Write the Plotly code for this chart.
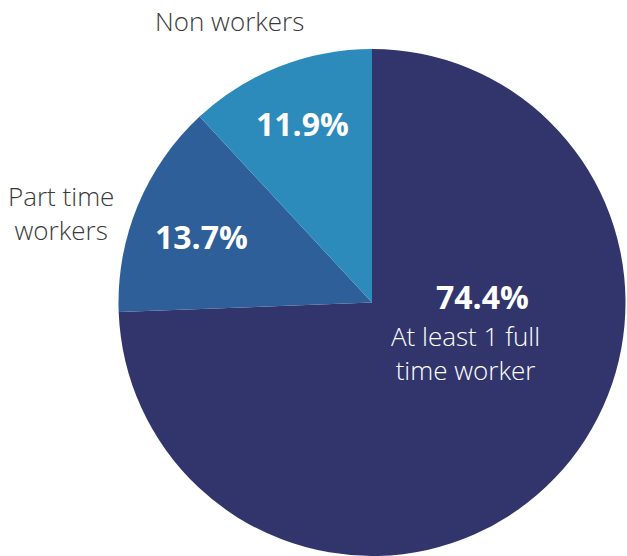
import plotly.graph_objects as go

W, H = 627, 556

labels = ["At least 1 full time worker", "Part time workers", "Non workers"]
label_lines = [["At least 1 full", "time worker"], ["Part time", "workers"], ["Non workers"]]
values = [74.4, 13.7, 11.9]
colors = ["#31356B", "#2E5F98", "#2C8BBB"]

fig = go.Figure(go.Pie(
    labels=labels,
    values=values,
    sort=False,
    direction="clockwise",
    rotation=0,
    marker=dict(colors=colors, line=dict(width=0)),
    textinfo="none",
    hoverinfo="label+percent",
    showlegend=False,
    domain=dict(x=[117 / W, 1], y=[0, 1 - 49 / H]),
))

def px(x):
    return x / W

def py(y):
    return 1 - y / H

font_family = "Open Sans"
white_bold = dict(family=font_family, size=32, color="white", weight=700)
white_light = dict(family=font_family, size=26, color="white", weight=300)
gray_light = dict(family=font_family, size=26, color="#3a3a3a", weight=300)

annotations = [
    # big slice
    dict(x=px(482), y=py(296), text=f"<b>{values[0]}%</b>", font=white_bold),
    dict(x=px(465.5), y=py(353), text="<br>".join(label_lines[0]), font=white_light),
    # part time
    dict(x=px(201.5), y=py(236), text=f"<b>{values[1]}%</b>", font=white_bold),
    dict(x=px(61), y=py(213), text="<br>".join(label_lines[1]), font=gray_light),
    # non workers
    dict(x=px(229), y=py(21), text="<br>".join(label_lines[2]), font=gray_light),
    dict(x=px(302), y=py(124), text=f"<b>{values[2]}%</b>", font=white_bold),
]
for a in annotations:
    a.update(xref="paper", yref="paper", xanchor="center", yanchor="middle",
             showarrow=False, align="center")

fig.update_layout(
    width=W, height=H,
    margin=dict(l=0, r=0, t=0, b=0),
    paper_bgcolor="white",
    plot_bgcolor="white",
    annotations=annotations,
)

fig.write_html(
    "out.html",
    config={"displayModeBar": False},
    post_script="document.body.style.margin='0';document.body.style.overflow='hidden';",
)
